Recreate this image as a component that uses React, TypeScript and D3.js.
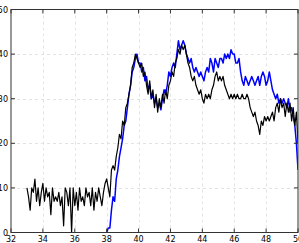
import React from "react";
import { scaleLinear, line } from "d3";

// sampled every 0.1 on x
const blackStart = 33;
const blackValues = [
  10, 8, 5, 10, 9, 12, 7, 10, 6, 9,
  11, 7, 10, 8, 9, 4, 10, 7, 8, 7,
  9, 6, 8, 1.5, 10, 9, 6, 10, 0, 10,
  6, 9, 5, 10, 7, 8, 6, 10, 8, 9,
  6, 10, 5, 9, 7, 10, 8, 6, 9, 11,
  12, 10, 8, 14, 15, 14, 17, 19, 22, 21,
  25, 24, 28, 29, 31, 33, 37, 38, 40, 39,
  38, 37, 38, 35, 36, 33, 31, 34, 30, 32,
  28, 31, 27, 30, 28, 31, 29, 32, 30, 33,
  34, 36, 35, 38, 39, 41, 40, 42, 41, 42,
  40, 38, 37, 35, 34, 35, 33, 32, 31, 32,
  30, 29, 31, 30, 31, 30, 32, 33, 35, 36,
  34, 35, 34, 35, 33, 32, 31, 30, 31, 30,
  31, 30, 31, 30, 30, 31, 30, 30, 31, 30,
  28, 27, 26, 27, 25, 24, 22, 25, 24, 26,
  25, 26, 25, 26, 27, 25, 28, 29, 27, 30,
  28, 29, 26, 29, 27, 29, 25, 28, 24, 27,
  20,
];

const blueStart = 38;
const blueValues = [
  0, 1, 1, 5, 8, 7, 12, 14, 17, 19,
  21, 24, 25, 28, 31, 33, 36, 37, 39, 40,
  38, 38, 36, 37, 34, 35, 32, 33, 30, 31,
  29, 30, 28, 29, 27.5, 30, 32, 31, 33, 36,
  35, 37, 38, 37, 40, 43, 41, 42, 43, 42,
  40, 39, 38, 39, 37, 36, 37, 36, 35, 36,
  35, 34, 36, 37, 36, 39, 38, 36, 39, 38,
  37, 39, 39, 38, 40, 39, 40, 39, 41, 40,
  40, 38, 38, 39, 36, 34, 33, 35, 34, 33,
  34, 35, 34, 33, 34, 35, 33, 35, 36, 35,
  33, 34, 36, 34, 32, 31, 30, 31, 29, 30,
  29, 30, 29, 28, 30, 27, 28, 26, 24, 20,
  14,
];

const xTicks = [32, 34, 36, 38, 40, 42, 44, 46, 48, 50];
const yTicks = [0, 10, 20, 30, 40, 50];

export default function App() {
  const width = 299;
  const height = 243;
  const left = 11;
  const right = 298;
  const top = 9.5;
  const bottom = 232.5;

  const x = scaleLinear().domain([32, 50]).range([left, right]);
  const y = scaleLinear().domain([0, 50]).range([bottom, top]);

  const toPoints = (start: number, vals: number[]) =>
    vals.map((v, i) => [start + i * 0.1, v] as [number, number]);

  const path = line<[number, number]>()
    .x(d => x(d[0]))
    .y(d => y(d[1]));

  const font = "DejaVu Sans, sans-serif";

  return (
    <svg
      width={width}
      height={height}
      style={{ position: "absolute", left: 0, top: 0, background: "#fff" }}
    >
      <defs>
        <clipPath id="plot">
          <rect x={left} y={top} width={right - left} height={bottom - top} />
        </clipPath>
      </defs>
      {/* grid */}
      <g stroke="#dcdcdc" strokeWidth={0.8} strokeDasharray="3 3">
        {xTicks.slice(1, -1).map(t => (
          <line key={"gx" + t} x1={Math.round(x(t)) + 0.5} x2={Math.round(x(t)) + 0.5} y1={top} y2={bottom} />
        ))}
        {yTicks.slice(1, -1).map(t => (
          <line key={"gy" + t} x1={left} x2={right} y1={Math.round(y(t)) + 0.5} y2={Math.round(y(t)) + 0.5} />
        ))}
      </g>
      <g clipPath="url(#plot)" fill="none" strokeLinejoin="round">
        <path d={path(toPoints(blueStart, blueValues)) ?? ""} stroke="#0000ff" strokeWidth={1.5} />
        <path d={path(toPoints(blackStart, blackValues)) ?? ""} stroke="#000" strokeWidth={1.2} />
      </g>
      {/* frame */}
      <rect x={left} y={top} width={right - left} height={bottom - top} fill="none" stroke="#333" strokeWidth={1} />
      {/* ticks */}
      <g stroke="#333" strokeWidth={1}>
        {xTicks.map(t => (
          <g key={"tx" + t}>
            <line x1={x(t)} x2={x(t)} y1={bottom} y2={bottom - 4} />
            <line x1={x(t)} x2={x(t)} y1={top} y2={top + 4} />
          </g>
        ))}
        {yTicks.map(t => (
          <g key={"ty" + t}>
            <line x1={left} x2={left + 4} y1={y(t)} y2={y(t)} />
            <line x1={right} x2={right - 4} y1={y(t)} y2={y(t)} />
          </g>
        ))}
      </g>
      {/* labels */}
      <g fontFamily={font} fontSize={8} fill="#000">
        {xTicks.map(t => (
          <text key={"lx" + t} x={x(t)} y={241.5} textAnchor="middle">{t}</text>
        ))}
        {yTicks.map(t => (
          <text key={"ly" + t} x={8} y={y(t) + 3} textAnchor="end">{t}</text>
        ))}
      </g>
    </svg>
  );
}
